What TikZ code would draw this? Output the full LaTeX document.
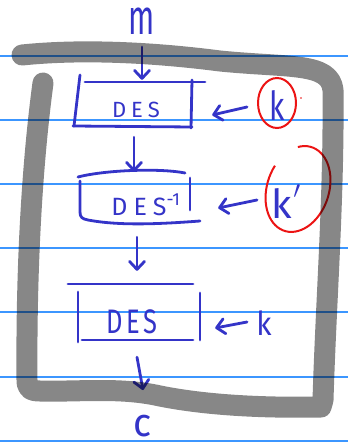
\documentclass[tikz,border=0pt]{standalone}
\usepackage{fontspec}
\setmainfont{Fira Sans}
\usetikzlibrary{arrows.meta}
\definecolor{ink}{RGB}{52,52,200}
\definecolor{rulec}{RGB}{60,150,255}
\definecolor{pen}{RGB}{236,20,20}
\begin{document}
\begin{tikzpicture}[x=1pt,y=-1pt,
  inkline/.style={draw=ink, line width=2.8pt, line cap=round, line join=round},
  arr/.style={inkline, -{Straight Barb[length=8pt,width=15pt,round]}},
  lbl/.style={text=ink, inner sep=0pt, text depth=0pt},
  boxnode/.style={lbl, anchor=base},
  redpen/.style={draw=pen, line width=2pt},
  rulel/.style={draw=rulec, line width=1.3pt},
  frame/.style={draw=black, draw opacity=0.47, line width=21pt, line cap=round, line join=round}]
\useasboundingbox (0,0) rectangle (348,446);
\fill[white] (0,0) rectangle (348,446);
% ruled paper
\foreach \yy in {56,120,184,248,312,377,441}
  \draw[rulel] (0,\yy) -- (348,\yy);

% labels
\node[lbl, anchor=base, text height=28pt, font=\fontsize{34}{34}\selectfont] (m) at (142,35) {\scalebox{0.9}[1.45]{m}};
\node[lbl, anchor=base, text height=28pt, font=\fontsize{40}{40}\selectfont] (k1) at (277,121) {\scalebox{0.75}[1]{k}};
\node[lbl, anchor=base, text height=30pt, font=\fontsize{40}{40}\selectfont] (k2) at (286,218) {k\kern1pt\raisebox{20pt}{$\prime$}};
\node[lbl, anchor=base, text height=23pt, font=\fontsize{33}{33}\selectfont] (k3) at (264,335) {\scalebox{0.9}[1]{k}};
\node[lbl, anchor=base, text height=20pt, font=\fontsize{36}{36}\selectfont] (c) at (143,436) {\scalebox{1.05}[1.1]{c}};

% boxes (text nodes sized like the drawn boxes)
\node[boxnode, text height=16pt, minimum width=124pt, minimum height=46pt, font=\fontsize{22}{22}\selectfont] (des1) at (136,118) {D\kern5pt E\kern5pt S};
\node[boxnode, text height=18pt, minimum width=124pt, minimum height=50pt, font=\fontsize{25}{25}\selectfont] (des2) at (146,215) {D\kern6pt E\kern6pt S\textsuperscript{-1}};
\node[boxnode, text height=24pt, minimum width=132pt, minimum height=58pt, font=\fontsize{34}{34}\selectfont] (des3) at (132,333) {\scalebox{0.75}[1]{D\kern5pt E\kern5pt S}};

% hand-drawn box 1
\draw[inkline] (85,82) -- (205,82);
\draw[inkline] (80,75) -- (74,126);
\draw[inkline] (73,126) -- (192,127);
\draw[inkline] (192,80) -- (191,128);
% hand-drawn box 2
\draw[inkline] (78,177) .. controls (105,170) and (160,168) .. (185,173);
\draw[inkline] (80,181) -- (80,212) .. controls (80,217) and (82,219) .. (88,220) .. controls (120,226) and (160,224) .. (200,221);
\draw[inkline] (190,178) -- (190,210);
% hand-drawn box 3
\draw[inkline] (68,284) -- (193,284);
\draw[inkline] (78,292) -- (78,342);
\draw[inkline] (82,340) -- (193,340);
\draw[inkline] (200,293) -- (200,340);

% connectors
\draw[arr] ([yshift=-12pt]m.base) -- ([xshift=6pt,yshift=7pt]des1.north);
\draw[arr] ([xshift=-30pt,yshift=14pt]k1.base) -- ([xshift=14pt,yshift=-5pt]des1.east);
\draw[arr] ([xshift=-2pt,yshift=-4pt]des1.south) -- ([xshift=-12pt,yshift=9pt]des2.north);
\draw[arr] ([xshift=-29pt,yshift=18pt]k2.base) -- ([xshift=10pt,yshift=-2pt]des2.east);
\draw[arr] ([xshift=-9pt,yshift=-6pt]des2.south) -- ([xshift=5pt,yshift=21pt]des3.north);
\draw[arr] ([xshift=-17pt,yshift=13pt]k3.base) -- ([xshift=17pt,yshift=-7pt]des3.east);
\draw[arr] ([xshift=5pt,yshift=-7pt]des3.south) -- ([yshift=46pt]c.base);

% red circles
\draw[redpen] (277,103) ellipse [x radius=19, y radius=25];
\fill[pen] (301,98) circle (0.8);
\begin{scope}[shift={(298,189)}, rotate=-18]
  \draw[redpen] (245:31 and 44) arc[start angle=245, end angle=560, x radius=31, y radius=44];
\end{scope}

% grey frame on top
\draw[frame] (22,55) .. controls (80,49) and (150,52) .. (220,61)
  .. controls (290,68) and (330,62) .. (333,90)
  .. controls (334,200) and (326,300) .. (323,400) -- (321,407)
  .. controls (270,408) and (210,406) .. (160,396)
  .. controls (120,387) and (80,392) .. (40,391)
  .. controls (30,391) and (27,388) .. (27,380)
  .. controls (26,250) and (34,150) .. (43,83);
\end{tikzpicture}
\end{document}
